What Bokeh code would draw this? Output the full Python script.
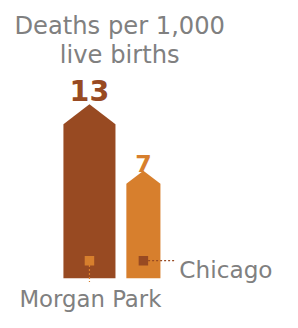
from bokeh.plotting import figure
from bokeh.models import Range1d
from bokeh.core.properties import value
from bokeh.embed import file_html
from bokeh.resources import INLINE

# ---- data ----
categories = ["Morgan Park", "Chicago"]
deaths = [13, 7]
value_labels = ["13", "7"]
title_lines = ["Deaths per 1,000", "live births"]

# ---- style / layout ----
bar_colors = ["#984A22", "#D77F2D"]
marker_colors = ["#D77F2D", "#984A22"]
gray = "#808080"
FONT = "DejaVu Sans"

W, H = 282, 312            # canvas size
RW, RH = 298, 328          # design-space size
S = (W / RW + H / RH) / 2  # font scale
PX = 70 / 6.0              # design pixels per data unit
BASE = 260.7               # design y of zero value


def vy(page_y):
    return (BASE - page_y) / PX


def dy(px):
    return px / PX


def fs(px):
    return "%.1fpx" % (px * S)


p = figure(width=W, height=H, output_backend="svg", toolbar_location=None,
           x_range=Range1d(0, RW), y_range=Range1d(vy(RH), vy(0)),
           min_border=0, x_axis_location=None, y_axis_location=None,
           outline_line_color=None, background_fill_color="white",
           border_fill_color="white")
p.xgrid.visible = False
p.ygrid.visible = False

centers = [94, 151]
half_w = [27.5, 18]
slope = 21 / 27.5
bottom = vy(292)

xs, ys = [], []
for c, hw, v in zip(centers, half_w, deaths):
    shoulder = v - dy(hw * slope)
    xs.append([c - hw, c - hw, c, c + hw, c + hw])
    ys.append([bottom, shoulder, v, shoulder, bottom])
p.patches(xs=xs, ys=ys, fill_color=bar_colors, line_color=None)

# value labels
lab_off = [14, 8]
sizes = [30, 25]
for c, v, t, col, off, s in zip(centers, deaths, value_labels, bar_colors, lab_off, sizes):
    p.text(x=[c], y=[v + dy(off)], text=[t], text_color=col,
           text_font=value(FONT), text_font_style="bold", text_font_size=fs(s),
           text_align="center", text_baseline="alphabetic")

# markers & leader lines
my = vy(273.5)
p.scatter(x=centers, y=[my, my], marker="square", size=10 * S,
          fill_color=marker_colors, line_color=None)
p.segment(x0=[centers[0]], y0=[vy(278)], x1=[centers[0]], y1=[vy(296)],
          line_color=marker_colors[0], line_width=1.2, line_dash="2 2")
p.segment(x0=[centers[1] + 5], y0=[my], x1=[184], y1=[my],
          line_color=marker_colors[1], line_width=1.2, line_dash="2 2")

# category labels
p.text(x=[95], y=[vy(314)], text=[categories[0]], text_color=gray,
       text_font=value(FONT), text_font_size=fs(24),
       text_align="center", text_baseline="alphabetic")
p.text(x=[189], y=[vy(283)], text=[categories[1]], text_color=gray,
       text_font=value(FONT), text_font_size=fs(24.5),
       text_align="left", text_baseline="alphabetic")

# title
p.text(x=[126, 126], y=[vy(27), vy(57)], text=title_lines, text_color=gray,
       text_font=value(FONT), text_font_size=fs(25.5),
       text_align="center", text_baseline="alphabetic")

open("out.html", "w").write(file_html(p, INLINE))
